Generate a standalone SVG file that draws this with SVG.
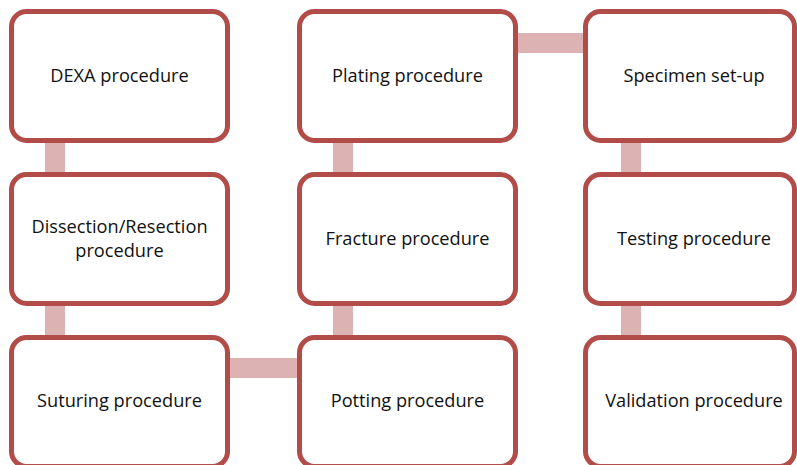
<svg xmlns="http://www.w3.org/2000/svg" width="797" height="465" viewBox="0 0 797 465">
  <style>
    .box { fill: #ffffff; stroke: #b14c49; stroke-width: 5; }
    .link { fill: #dcb3b2; }
    .label { font-family: "Open Sans", "Liberation Sans", sans-serif; font-size: 18.2px; fill: #111111; text-anchor: middle; dominant-baseline: central; }
  </style>
  <rect width="797" height="465" fill="#ffffff"/>

  <!-- connectors (drawn under the boxes) -->
  <g id="connectors">
    <rect class="link" x="45" y="140" width="20" height="35"/>
    <rect class="link" x="45" y="303" width="20" height="35"/>
    <rect class="link" x="227" y="358" width="73" height="20"/>
    <rect class="link" x="333" y="303" width="20" height="35"/>
    <rect class="link" x="333" y="140" width="20" height="35"/>
    <rect class="link" x="514" y="33" width="72" height="20"/>
    <rect class="link" x="621" y="140" width="20" height="35"/>
    <rect class="link" x="621" y="303" width="20" height="35"/>
  </g>

  <g id="dexa">
    <rect class="box" x="11.5" y="11.5" width="216" height="129" rx="15"/>
    <text class="label" x="119.5" y="75">DEXA procedure</text>
  </g>
  <g id="dissection">
    <rect class="box" x="11.5" y="174.5" width="216" height="129" rx="15"/>
    <text class="label" x="119.5" y="226">Dissection/Resection</text>
    <text class="label" x="119.5" y="250">procedure</text>
  </g>
  <g id="suturing">
    <rect class="box" x="11.5" y="337.5" width="216" height="129" rx="15"/>
    <text class="label" x="119.5" y="400">Suturing procedure</text>
  </g>
  <g id="potting">
    <rect class="box" x="299.5" y="337.5" width="216" height="129" rx="15"/>
    <text class="label" x="407.5" y="400">Potting procedure</text>
  </g>
  <g id="fracture">
    <rect class="box" x="299.5" y="174.5" width="216" height="129" rx="15"/>
    <text class="label" x="407.5" y="238">Fracture procedure</text>
  </g>
  <g id="plating">
    <rect class="box" x="299.5" y="11.5" width="216" height="129" rx="15"/>
    <text class="label" x="407.5" y="75">Plating procedure</text>
  </g>
  <g id="specimen">
    <rect class="box" x="585.5" y="11.5" width="209" height="129" rx="15"/>
    <text class="label" x="694" y="75">Specimen set-up</text>
  </g>
  <g id="testing">
    <rect class="box" x="585.5" y="174.5" width="209" height="129" rx="15"/>
    <text class="label" x="694" y="238">Testing procedure</text>
  </g>
  <g id="validation">
    <rect class="box" x="585.5" y="337.5" width="209" height="129" rx="15"/>
    <text class="label" x="694" y="400">Validation procedure</text>
  </g>
</svg>
